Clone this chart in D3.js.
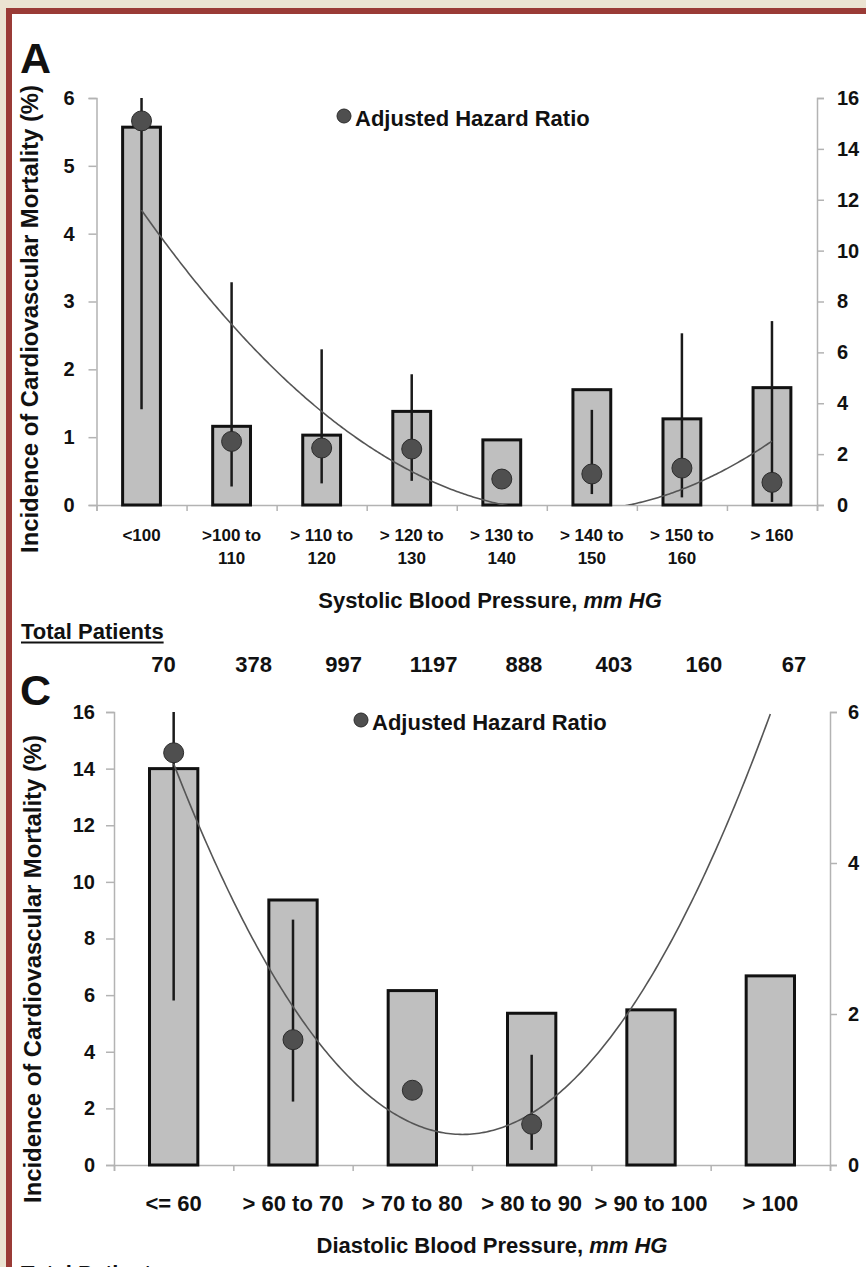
<!DOCTYPE html>
<html>
<head>
<meta charset="utf-8">
<script src="https://cdnjs.cloudflare.com/ajax/libs/d3/7.8.5/d3.min.js"></script>
<style>
  body { margin: 0; background: #ebe4d2; }
  svg text { font-family: "Liberation Sans", Arial, sans-serif; font-weight: bold; fill: #111; }
</style>
</head>
<body>
<div id="chart"></div>
<script>
// =============== Data: panel A (systolic)
var sbpCategories = [["<100"], [">100 to", "110"], ["> 110 to", "120"], ["> 120 to", "130"],
                     ["> 130 to", "140"], ["> 140 to", "150"], ["> 150 to", "160"], ["> 160"]];
var sbpIncidence = [5.57, 1.16, 1.03, 1.38, 0.96, 1.70, 1.27, 1.73];
var sbpHR = [15.1, 2.5, 2.24, 2.2, 1.02, 1.22, 1.45, 0.89];
var sbpHRLow = [3.76, 0.73, 0.85, 0.95, null, 0.43, 0.30, 0.12];
var sbpHRHigh = [16, 8.76, 6.12, 5.14, null, 3.74, 6.75, 7.23];
var sbpLeftTicks = [0, 1, 2, 3, 4, 5, 6];
var sbpRightTicks = [0, 2, 4, 6, 8, 10, 12, 14, 16];
var sbpPatients = [70, 378, 997, 1197, 888, 403, 160, 67];

// =============== Data: panel C (diastolic)
var dbpCategories = [["<= 60"], ["> 60 to 70"], ["> 70 to 80"], ["> 80 to 90"], ["> 90 to 100"], ["> 100"]];
var dbpIncidence = [14.0, 9.36, 6.16, 5.36, 5.48, 6.68];
var dbpHR = [5.46, 1.66, 0.99, 0.54, null, null];
var dbpHRLow = [2.18, 0.84, null, 0.20, null, null];
var dbpHRHigh = [6.0, 3.25, null, 1.46, null, null];
var dbpLeftTicks = [0, 2, 4, 6, 8, 10, 12, 14, 16];
var dbpRightTicks = [0, 2, 4, 6];

var yTitle = "Incidence of Cardiovascular Mortality (%)";
var legendText = "Adjusted Hazard Ratio";

// =============== SVG + frame
var svg = d3.select("#chart").append("svg")
    .attr("width", 866)
    .attr("height", 1267);

svg.append("rect").attr("width", 866).attr("height", 1267).attr("fill", "#ebe4d2");
svg.append("rect").attr("x", 6).attr("y", 8).attr("width", 900).attr("height", 1300).attr("fill", "#9a3b36");
svg.append("rect").attr("x", 12).attr("y", 14).attr("width", 900).attr("height", 1300).attr("fill", "#ffffff");

// least squares quadratic (like the Excel polynomial trendline)
function quadFit(xs, ys) {
    var s = [0, 0, 0, 0, 0], t = [0, 0, 0];
    xs.forEach(function(x, i) {
        for (var k = 0; k < 5; k++) s[k] += Math.pow(x, k);
        for (var k = 0; k < 3; k++) t[k] += ys[i] * Math.pow(x, k);
    });
    var m = [[s[0], s[1], s[2], t[0]], [s[1], s[2], s[3], t[1]], [s[2], s[3], s[4], t[2]]];
    for (var c = 0; c < 3; c++) {
        for (var r = c + 1; r < 3; r++) {
            var f = m[r][c] / m[c][c];
            for (var j = c; j < 4; j++) m[r][j] -= f * m[c][j];
        }
    }
    var coef = [0, 0, 0];
    for (var r = 2; r >= 0; r--) {
        var v = m[r][3];
        for (var j = r + 1; j < 3; j++) v -= m[r][j] * coef[j];
        coef[r] = v / m[r][r];
    }
    return function(x) { return coef[0] + coef[1] * x + coef[2] * x * x; };
}

function styleAxis(g, size) {
    g.attr("font-size", null).attr("font-family", null);
    g.select(".domain").attr("stroke", "#b3b3b3").attr("stroke-width", 1.5);
    g.selectAll(".tick line").attr("stroke", "#b3b3b3").attr("stroke-width", 1.5);
    g.selectAll(".tick text").attr("font-size", size).attr("fill", "#111");
}

// =============== Panel drawing
function drawPanel(p) {
    var n = p.incidence.length;
    var idx = d3.range(n);

    var x = d3.scaleBand().domain(idx).range([p.left, p.right])
        .paddingInner(p.pad).paddingOuter(p.pad / 2);
    var xi = d3.scaleLinear().domain([0.5, n + 0.5]).range([p.left, p.right]);
    var yL = d3.scaleLinear().domain([0, d3.max(p.leftTicks)]).range([p.bottom, p.top]);
    var yR = d3.scaleLinear().domain([0, d3.max(p.rightTicks)]).range([p.bottom, p.top]);

    var clipId = "clip" + p.name;
    svg.append("clipPath").attr("id", clipId).append("rect")
        .attr("x", p.left).attr("y", p.top)
        .attr("width", p.right - p.left).attr("height", p.bottom - p.top);

    // axes
    var leftAxis = svg.append("g")
        .attr("transform", `translate(${p.left},0)`)
        .call(d3.axisLeft(yL).tickValues(p.leftTicks).tickFormat(d3.format("d"))
            .tickSize(8).tickPadding(p.leftPad));
    styleAxis(leftAxis, 20);

    var rightAxis = svg.append("g")
        .attr("transform", `translate(${p.right},0)`)
        .call(d3.axisRight(yR).tickValues(p.rightTicks).tickFormat(d3.format("d"))
            .tickSize(7).tickPadding(p.rightPad));
    styleAxis(rightAxis, 20);

    var bottomAxis = svg.append("g")
        .attr("transform", `translate(0,${p.bottom})`)
        .call(d3.axisBottom(xi).tickValues(d3.range(0.5, n + 1, 1)).tickSize(6).tickFormat(""));
    styleAxis(bottomAxis, 10);

    // bars
    svg.selectAll(".bar" + p.name)
        .data(idx)
        .enter()
        .append("rect")
        .attr("x", i => x(i))
        .attr("y", i => yL(p.incidence[i]))
        .attr("width", x.bandwidth())
        .attr("height", i => yL(0) - yL(p.incidence[i]))
        .attr("fill", "#bfbfbf")
        .attr("stroke", "#111")
        .attr("stroke-width", 3);

    // error bars
    var errIdx = idx.filter(i => p.low[i] != null);
    svg.selectAll(".err" + p.name)
        .data(errIdx)
        .enter()
        .append("line")
        .attr("x1", i => x(i) + x.bandwidth() / 2)
        .attr("x2", i => x(i) + x.bandwidth() / 2)
        .attr("y1", i => yR(p.low[i]))
        .attr("y2", i => yR(p.high[i]))
        .attr("stroke", "#1a1a1a")
        .attr("stroke-width", 2.5)
        .attr("clip-path", `url(#${clipId})`);

    // trend line
    var hrIdx = idx.filter(i => p.hr[i] != null);
    var fit = quadFit(hrIdx.map(i => i + 1), hrIdx.map(i => p.hr[i]));
    var samples = d3.range(1, n + 0.001, 0.02);
    var line = d3.line().x(v => xi(v)).y(v => yR(fit(v)));
    svg.append("path")
        .datum(samples)
        .attr("d", line)
        .attr("fill", "none")
        .attr("stroke", "#555")
        .attr("stroke-width", 1.6)
        .attr("clip-path", `url(#${clipId})`);

    // hazard ratio points
    svg.selectAll(".pt" + p.name)
        .data(hrIdx)
        .enter()
        .append("circle")
        .attr("cx", i => x(i) + x.bandwidth() / 2)
        .attr("cy", i => yR(p.hr[i]))
        .attr("r", 10)
        .attr("fill", "#4f4f4f")
        .attr("stroke", "#2b2b2b")
        .attr("stroke-width", 1);

    // category labels
    var labels = svg.selectAll(".lab" + p.name)
        .data(idx)
        .enter()
        .append("text")
        .attr("text-anchor", "middle")
        .attr("font-size", p.labelSize)
        .attr("y", p.labelY);
    labels.selectAll("tspan")
        .data(i => p.categories[i].map(t => ({ t: t, i: i })))
        .enter()
        .append("tspan")
        .attr("x", d => x(d.i) + x.bandwidth() / 2)
        .attr("dy", (d, k) => k === 0 ? 0 : p.labelLine)
        .text(d => d.t);

    // legend
    svg.append("circle")
        .attr("cx", p.legendX).attr("cy", p.legendY - 10)
        .attr("r", 7)
        .attr("fill", "#4f4f4f").attr("stroke", "#2b2b2b");
    svg.append("text")
        .attr("x", p.legendX + 11).attr("y", p.legendY)
        .attr("font-size", 22)
        .text(legendText);

    // axis titles
    svg.append("text")
        .attr("transform", `translate(${p.yTitleX},${p.yTitleY}) rotate(-90)`)
        .attr("text-anchor", "middle")
        .attr("font-size", 23)
        .attr("textLength", 468)
        .attr("lengthAdjust", "spacingAndGlyphs")
        .text(yTitle);

    var xt = svg.append("text")
        .attr("x", p.xTitleX).attr("y", p.xTitleY)
        .attr("text-anchor", "middle")
        .attr("font-size", 22);
    xt.append("tspan").text(p.xTitle + ", ");
    xt.append("tspan").attr("font-style", "italic").text("mm HG");

    // panel letter
    svg.append("text")
        .attr("x", 20).attr("y", p.letterY)
        .attr("font-size", 43)
        .text(p.name);

    return x;
}

var xA = drawPanel({
    name: "A",
    categories: sbpCategories, incidence: sbpIncidence,
    hr: sbpHR, low: sbpHRLow, high: sbpHRHigh,
    leftTicks: sbpLeftTicks, rightTicks: sbpRightTicks,
    left: 96.5, right: 817, top: 98, bottom: 505, pad: 0.58,
    leftPad: 14, rightPad: 13,
    labelSize: 17, labelY: 541, labelLine: 23,
    legendX: 344, legendY: 126,
    yTitleX: 38, yTitleY: 319,
    xTitle: "Systolic Blood Pressure", xTitleX: 490, xTitleY: 608,
    letterY: 73
});

drawPanel({
    name: "C",
    categories: dbpCategories, incidence: dbpIncidence,
    hr: dbpHR, low: dbpHRLow, high: dbpHRHigh,
    leftTicks: dbpLeftTicks, rightTicks: dbpRightTicks,
    left: 114, right: 830, top: 712, bottom: 1165, pad: 0.595,
    leftPad: 11, rightPad: 11,
    labelSize: 22, labelY: 1211, labelLine: 24,
    legendX: 361, legendY: 730,
    yTitleX: 41, yTitleY: 969,
    xTitle: "Diastolic Blood Pressure", xTitleX: 492, xTitleY: 1253,
    letterY: 705
});

// =============== Total patients row (panel A)
var tp = svg.append("text")
    .attr("x", 21).attr("y", 639)
    .attr("font-size", 22)
    .text("Total Patients");
var tpLen = tp.node().getComputedTextLength();
svg.append("line")
    .attr("x1", 21).attr("x2", 21 + tpLen)
    .attr("y1", 642.5).attr("y2", 642.5)
    .attr("stroke", "#111").attr("stroke-width", 2);

svg.selectAll(".patients")
    .data(sbpPatients)
    .enter()
    .append("text")
    .attr("x", (d, i) => xA(i) + xA.bandwidth() / 2 + 22)
    .attr("y", 672)
    .attr("text-anchor", "middle")
    .attr("font-size", 22)
    .text(d => d);

// heading of the next block, cut by the bottom edge as in the source
svg.append("text")
    .attr("x", 21).attr("y", 1281)
    .attr("font-size", 22)
    .attr("fill", "#444")
    .text("Total Patients");
</script>
</body>
</html>
